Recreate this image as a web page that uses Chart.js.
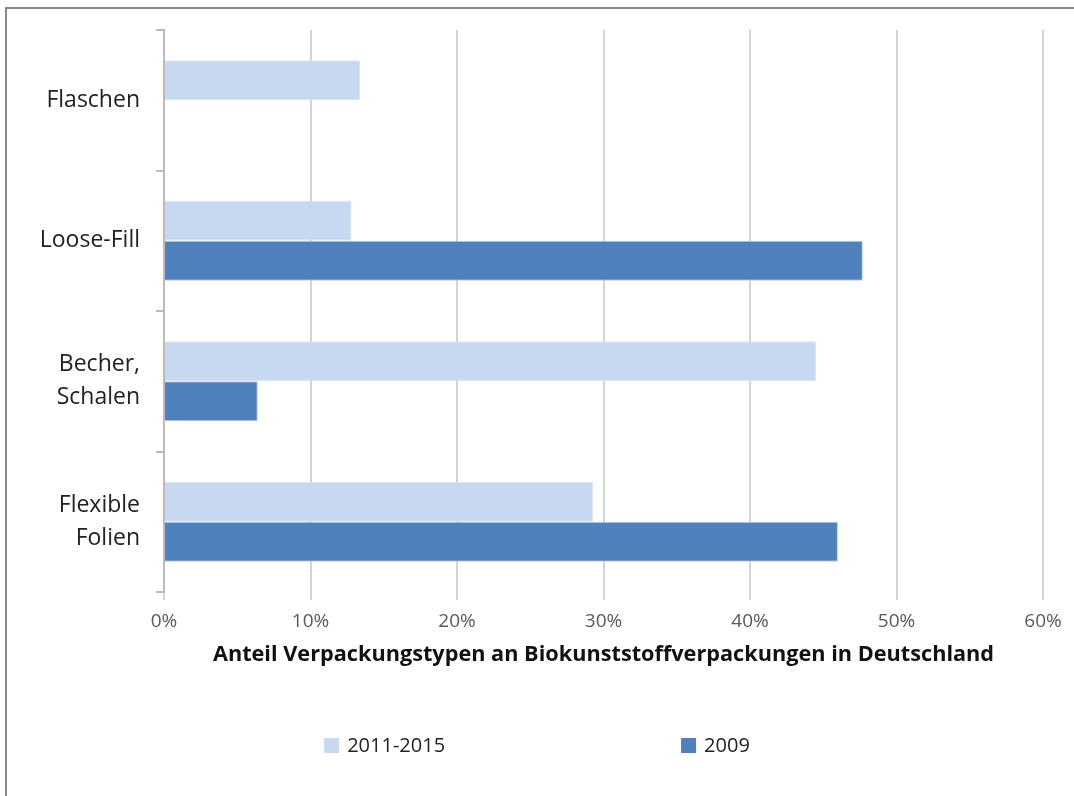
<!DOCTYPE html>
<html>
<head>
<meta charset="utf-8">
<script src="https://cdn.jsdelivr.net/npm/chart.js@4"></script>
<style>
    html, body { margin: 0; padding: 0; background: #fff; }
    #wrap { position: relative; width: 1074px; height: 796px; }
    #frame { position: absolute; left: 5px; top: 7px; width: 1074px; height: 800px;
             border-top: 2px solid #888; border-left: 2px solid #888; }
    canvas { position: absolute; left: 0; top: 0; }
</style>
</head>
<body>
<div id="wrap">
    <div id="frame"></div>
    <canvas id="myChart" width="1074" height="796"></canvas>
</div>
<script>
const categories = ['Flaschen', 'Loose-Fill', ['Becher,', 'Schalen'], ['Flexible', 'Folien']];
const seriesNames = ['2011-2015', '2009'];
const values20112015 = [13.4, 12.8, 44.5, 29.3];
const values2009 = [null, 47.7, 6.4, 46.0];
const xTicks = [0, 10, 20, 30, 40, 50, 60];
const axisTitle = 'Anteil Verpackungstypen an Biokunststoffverpackungen in Deutschland';

const FONT = '"Open Sans", Lato, sans-serif';

// legend with the two items pushed far apart, like the original
const spreadLegend = {
    id: 'spreadLegend',
    afterDraw(chart) {
        const ctx = chart.ctx;
        const y = 745;
        const gap = 236;
        ctx.save();
        ctx.font = '20px ' + FONT;
        ctx.textBaseline = 'middle';
        const items = chart.data.datasets.map(ds => ({
            text: ds.label,
            color: ds.backgroundColor,
            w: 15 + 8 + ctx.measureText(ds.label).width
        }));
        const total = items.reduce((s, it) => s + it.w, 0) + gap * (items.length - 1);
        let x = chart.width / 2 - total / 2;
        items.forEach(it => {
            ctx.fillStyle = it.color;
            ctx.fillRect(x, y - 7, 15, 15);
            ctx.fillStyle = '#222';
            ctx.fillText(it.text, x + 23, y + 1);
            x += it.w + gap;
        });
        ctx.restore();
    }
};

const ctx = document.getElementById('myChart').getContext('2d');
window.myChart = new Chart(ctx, {
    type: 'bar',
    data: {
        labels: categories,
        datasets: [{
            label: seriesNames[0],
            data: values20112015,
            backgroundColor: '#c6d9f1',
            borderColor: '#d6e3f4',
            borderWidth: 1,
            categoryPercentage: 0.57,
            barPercentage: 1.0
        }, {
            label: seriesNames[1],
            data: values2009,
            backgroundColor: '#4f81bd',
            borderColor: '#b3c9e6',
            borderWidth: 1,
            categoryPercentage: 0.57,
            barPercentage: 1.0
        }]
    },
    options: {
        indexAxis: 'y',
        responsive: false,
        animation: false,
        layout: { padding: { top: 30, right: 31, left: 0, bottom: 120 } },
        plugins: {
            legend: { display: false },
            tooltip: { enabled: false }
        },
        scales: {
            x: {
                min: 0,
                max: 60,
                afterFit: s => { s.height = 84; },
                afterBuildTicks: s => { s.ticks = xTicks.map(v => ({ value: v })); },
                ticks: {
                    padding: 10,
                    color: '#595959',
                    font: { family: FONT, size: 19 },
                    callback: v => v + '%'
                },
                grid: { color: '#d4d4d4', lineWidth: 2, tickLength: 8 },
                border: { display: false },
                title: {
                    display: true,
                    text: axisTitle,
                    color: '#111',
                    font: { family: FONT, size: 21.7, weight: 'bold' },
                    padding: { top: 0, bottom: 8 }
                }
            },
            y: {
                afterFit: s => { s.width = 164; s.paddingTop = 0; s.paddingBottom = 0; },
                ticks: {
                    padding: 16,
                    color: '#222',
                    font: { family: FONT, size: 23, lineHeight: 1.42 }
                },
                grid: { offset: true, drawOnChartArea: false, color: '#bbb', lineWidth: 2, tickLength: 8 },
                border: { display: true, color: '#bbb', width: 2 }
            }
        }
    },
    plugins: [spreadLegend]
});
</script>
</body>
</html>
